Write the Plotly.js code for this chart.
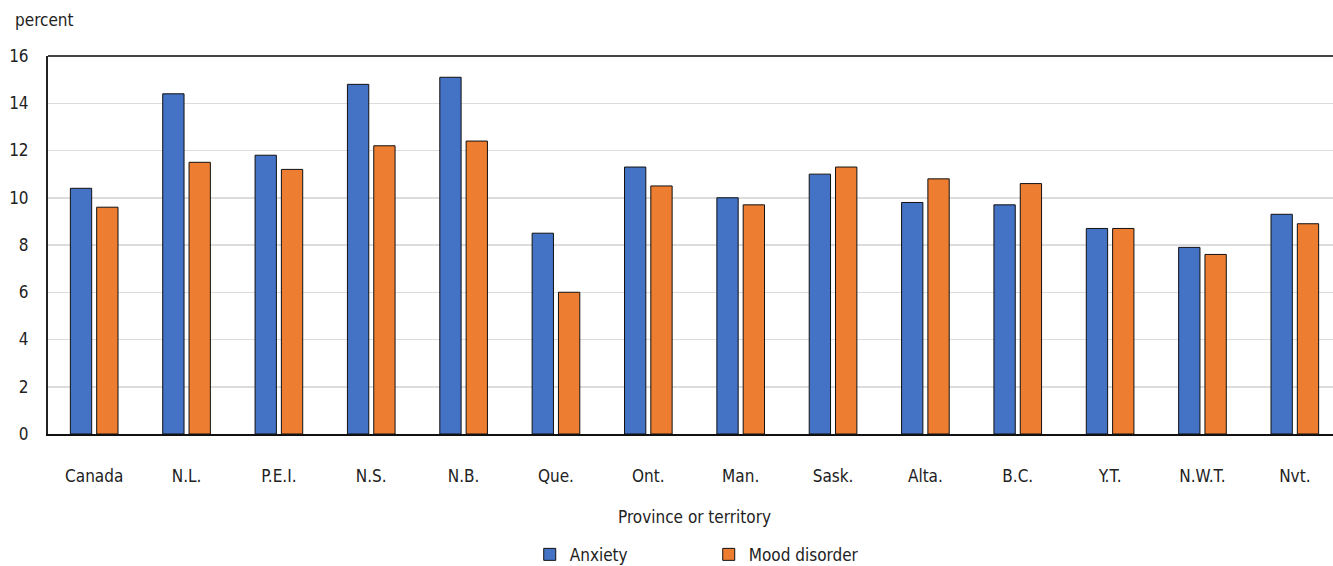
<!DOCTYPE html>
<html>
<head>
<meta charset="utf-8">
<script src="https://cdn.plot.ly/plotly-3.0.1.min.js"></script>
<style>
  html, body { margin: 0; padding: 0; overflow: hidden; background: #fff; }
  #chart { width: 1341px; height: 566px; }
</style>
</head>
<body>
<div id="chart"></div>
<script>
// Provinces and territories
const regions = ['Canada', 'N.L.', 'P.E.I.', 'N.S.', 'N.B.', 'Que.', 'Ont.', 'Man.', 'Sask.', 'Alta.', 'B.C.', 'Y.T.', 'N.W.T.', 'Nvt.'];

// percent reporting each condition
const anxiety = [10.4, 14.4, 11.8, 14.8, 15.1, 8.5, 11.3, 10.0, 11.0, 9.8, 9.7, 8.7, 7.9, 9.3];
const moodDisorder = [9.6, 11.5, 11.2, 12.2, 12.4, 6.0, 10.5, 9.7, 11.3, 10.8, 10.6, 8.7, 7.6, 8.9];

const yTicks = [0, 2, 4, 6, 8, 10, 12, 14, 16];

const font = 'DejaVu Sans Condensed, Liberation Sans Narrow, Roboto, sans-serif';

const data = [{
  x: regions,
  y: anxiety,
  type: 'bar',
  name: 'Anxiety',
  marker: { color: '#4472C4', line: { color: '#111', width: 1 } }
}, {
  x: regions,
  y: moodDisorder,
  type: 'bar',
  name: 'Mood disorder',
  marker: { color: '#ED7D31', line: { color: '#111', width: 1 } }
}];

const layout = {
  width: 1341,
  height: 566,
  margin: { l: 48, r: 0, t: 56, b: 132, autoexpand: false },
  font: { family: font, size: 17, color: '#222' },
  barmode: 'group',
  bargap: 0.43,
  bargroupgap: 0.19,
  showlegend: true,
  legend: {
    orientation: 'h',
    x: 0.511, xanchor: 'center', xref: 'paper',
    y: -0.272, yanchor: 'top',
    entrywidth: 134,
    itemclick: false,
    font: { size: 17 }
  },
  annotations: [{
    text: 'percent',
    xref: 'paper', yref: 'paper',
    x: -0.027, y: 1.095,
    xanchor: 'left', yanchor: 'middle',
    showarrow: false,
    font: { size: 17 }
  }],
  xaxis: {
    title: { text: 'Province or territory', standoff: 26, font: { size: 17 } },
    automargin: false,
    showline: true, linecolor: '#111', linewidth: 2,
    mirror: false,
    ticks: '',
    ticklabelstandoff: 26,
    showgrid: false
  },
  yaxis: {
    range: [0, 16],
    tickvals: yTicks,
    automargin: false,
    showline: true, linecolor: '#222', linewidth: 2,
    showgrid: true, gridcolor: '#dcdcdc', gridwidth: 1.5,
    ticks: '',
    ticklabelstandoff: 14,
    zeroline: false
  },
  shapes: [{
    type: 'line', xref: 'paper', yref: 'paper',
    x0: 0, x1: 1, y0: 1, y1: 1,
    line: { color: '#444', width: 2 }
  }],
  plot_bgcolor: '#fff',
  paper_bgcolor: '#fff'
};

Plotly.newPlot('chart', data, layout, { staticPlot: true });
</script>
</body>
</html>
